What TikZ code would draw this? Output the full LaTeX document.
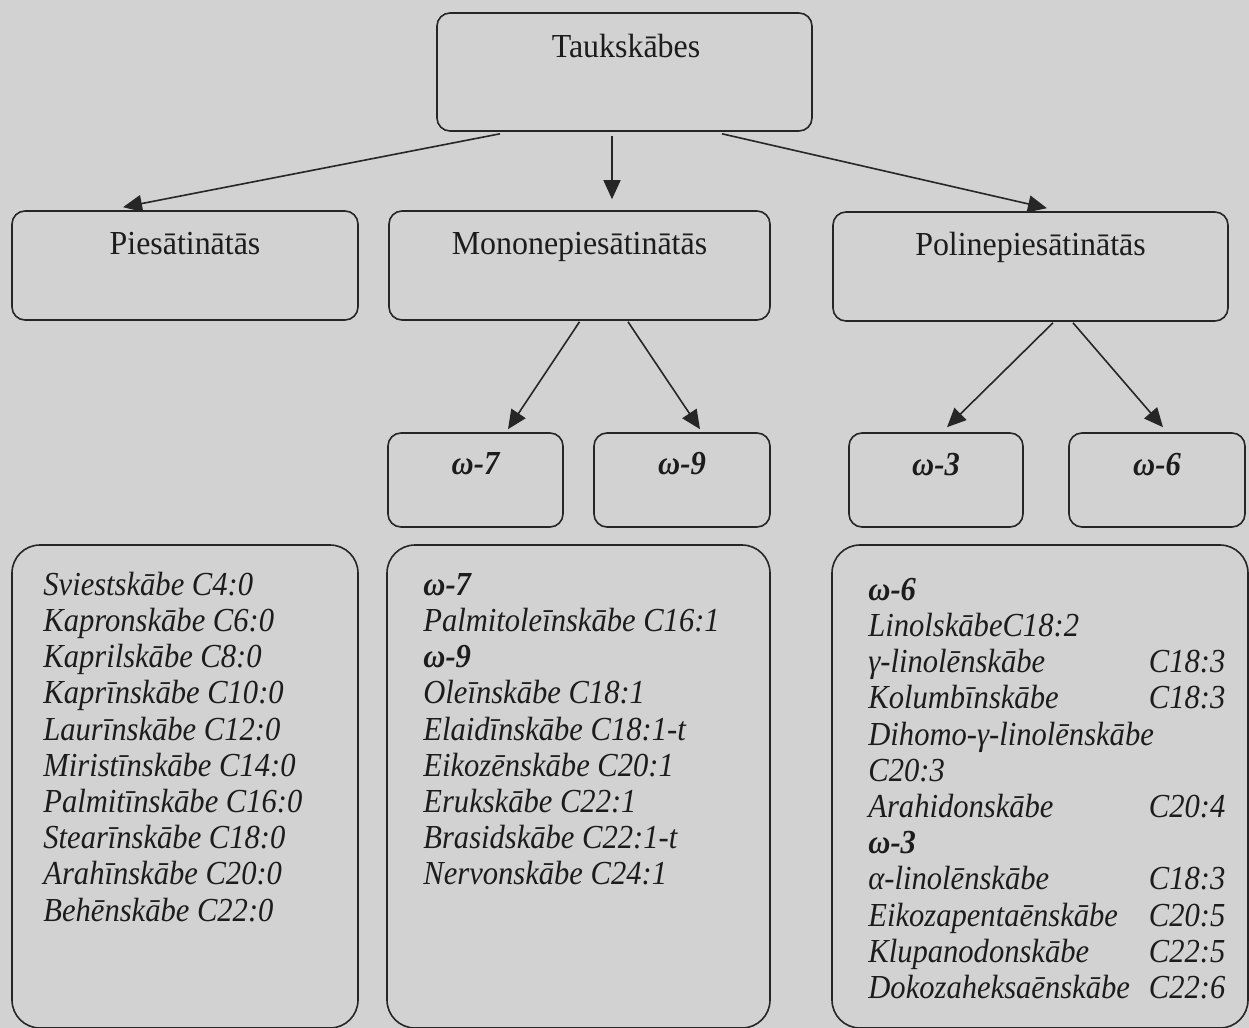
\documentclass[tikz,border=0pt]{standalone}
\usepackage{fontspec}
\setmainfont{Liberation Serif}[FakeStretch=0.95]
\newfontfamily\listfont{Liberation Serif}[FakeStretch=0.91]
\usetikzlibrary{arrows.meta,calc}
\definecolor{bgc}{RGB}{210,210,210}
\definecolor{linec}{RGB}{38,38,38}
\definecolor{txtc}{RGB}{28,28,28}
\newcommand{\rrow}[2]{\makebox[178.5pt][l]{#1\hfill #2}}
\tikzset{
  boxa/.style={draw=linec, line width=0.8pt, rounded corners=6.5pt, inner sep=0pt},
  boxb/.style={draw=linec, line width=0.8pt, rounded corners=14pt, inner sep=0pt},
  lbl/.style={text=txtc, font=\fontsize{16.8}{18.1}\selectfont, anchor=base, inner sep=0pt},
  olbl/.style={text=txtc, font=\fontsize{16.8}{18.1}\selectfont\listfont\bfseries\itshape, anchor=base, inner sep=0pt},
  lst/.style={text=txtc, font=\fontsize{16.8}{18.1}\selectfont\listfont\itshape, anchor=north west, align=left, inner sep=0pt},
  arr/.style={draw=linec, line width=0.8pt, -{Triangle[length=9.5pt,width=8.5pt]}}
}
\begin{document}
\begin{tikzpicture}[x=0.5pt,y=-0.5pt]
\useasboundingbox (0,0) rectangle (1249,1028);
\clip (0,0) rectangle (1249,1028);
\fill[bgc] (0,0) rectangle (1249,1028);
% level 0
\node[boxa, minimum width=187.5pt, minimum height=59pt] (top) at (624.5,72) {};
\node[lbl] (ttop) at (626,57) {Taukskābes};
% level 1
\node[boxa, minimum width=173pt, minimum height=54.5pt] (pies) at (185,265.5) {};
\node[boxa, minimum width=190.5pt, minimum height=54.5pt] (mono) at (579.5,265.5) {};
\node[boxa, minimum width=197.5pt, minimum height=54.5pt] (poli) at (1030.5,266.5) {};
\node[lbl] (tpies) at (185,254) {Piesātinātās};
\node[lbl] (tmono) at (579.5,254) {Mononepiesātinātās};
\node[lbl] (tpoli) at (1030.5,255) {Polinepiesātinātās};
% level 2
\node[boxa, minimum width=87.5pt, minimum height=47pt] (o7) at (475.5,480) {};
\node[boxa, minimum width=88pt, minimum height=47pt] (o9) at (682,480) {};
\node[boxa, minimum width=87pt, minimum height=47pt] (o3) at (936,480) {};
\node[boxa, minimum width=88pt, minimum height=47pt] (o6) at (1157,480) {};
\node[olbl] (to7) at (475.5,474) {ω-7};
\node[olbl] (to9) at (682,474) {ω-9};
\node[olbl] (to3) at (936,475) {ω-3};
\node[olbl] (to6) at (1157,475) {ω-6};
% lists
\node[boxb, minimum width=173pt, minimum height=241.5pt] (lbox) at (185,786.5) {};
\node[boxb, minimum width=191.5pt, minimum height=241.5pt] (mbox) at (578.5,786.5) {};
\node[boxb, minimum width=208pt, minimum height=241.5pt] (rbox) at (1040,786.5) {};
\node[lst] (llist) at (43,569.5) {\strut Sviestskābe C4:0\\
Kapronskābe C6:0\\
Kaprilskābe C8:0\\
Kaprīnskābe C10:0\\
Laurīnskābe C12:0\\
Miristīnskābe C14:0\\
Palmitīnskābe C16:0\\
Stearīnskābe C18:0\\
Arahīnskābe C20:0\\
Behēnskābe C22:0};
\node[lst] (mlist) at (423,569.5) {\strut\textbf{ω-7}\\
Palmitoleīnskābe C16:1\\
\textbf{ω-9}\\
Oleīnskābe C18:1\\
Elaidīnskābe C18:1-t\\
Eikozēnskābe C20:1\\
Erukskābe C22:1\\
Brasidskābe C22:1-t\\
Nervonskābe C24:1};
\node[lst] (rlist) at (868,574.5) {\strut\textbf{ω-6}\\
LinolskābeC18:2\\
\rrow{γ-linolēnskābe}{C18:3}\\
\rrow{Kolumbīnskābe}{C18:3}\\
Dihomo-γ-linolēnskābe\\
C20:3\\
\rrow{Arahidonskābe}{C20:4}\\
\textbf{ω-3}\\
\rrow{α-linolēnskābe}{C18:3}\\
\rrow{Eikozapentaēnskābe}{C20:5}\\
\rrow{Klupanodonskābe}{C22:5}\\
\rrow{Dokozaheksaēnskābe}{C22:6}};
% connectors
\draw[arr] ($(top.south)+(-124.5,2)$) -- ($(pies.north)+(-62,-3)$);
\draw[arr] ($(top.south)+(-12.5,4)$) -- ($(mono.north)+(32.5,-11)$);
\draw[arr] ($(top.south)+(97.5,2)$) -- ($(poli.north)+(16.5,-3)$);
\draw[arr] ($(mono.south)+(0,1)$) -- ($(o7.north)+(32.5,-3)$);
\draw[arr] ($(mono.south)+(48.5,1)$) -- ($(o9.north)+(18,-3)$);
\draw[arr] ($(poli.south)+(22.5,1)$) -- ($(o3.north)+(11,-5)$);
\draw[arr] ($(poli.south)+(42.5,1)$) -- ($(o6.north)+(6,-5)$);
\end{tikzpicture}
\end{document}
